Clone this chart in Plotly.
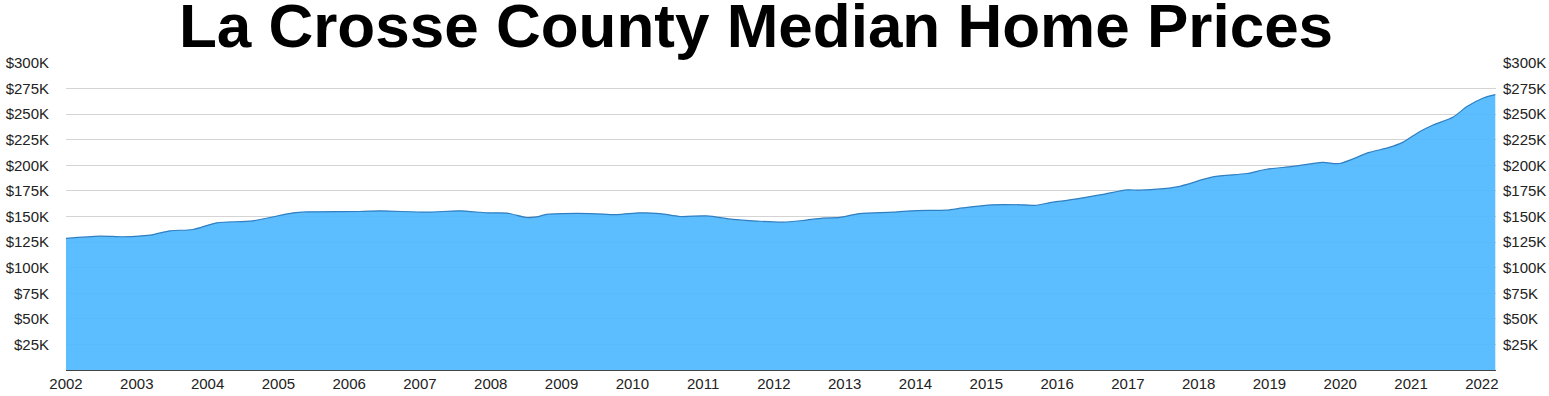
import plotly.graph_objects as go

years = [2002.00, 2002.48, 2002.81, 2003.19, 2003.47, 2003.79, 2004.13, 2004.64, 2005.21, 2005.40,
         2006.15, 2006.44, 2007.10, 2007.56, 2007.95, 2008.23, 2008.51, 2008.65, 2008.79, 2009.40,
         2009.78, 2010.11, 2010.39, 2010.68, 2011.05, 2011.42, 2011.76, 2012.13, 2012.41, 2012.69,
         2012.93, 2013.21, 2013.68, 2014.02, 2014.44, 2014.67, 2015.09, 2015.52, 2015.71, 2015.90,
         2016.14, 2016.65, 2016.99, 2017.17, 2017.69, 2018.20, 2018.68, 2018.96, 2019.33, 2019.75,
         2019.99, 2020.41, 2020.69, 2020.88, 2021.12, 2021.31, 2021.59, 2021.79, 2022.02, 2022.19]
prices_k = [128.6, 130.8, 130.2, 131.8, 136.0, 137.3, 143.8, 145.8, 153.6, 154.5,
            154.9, 155.5, 154.2, 155.5, 153.6, 153.3, 149.0, 149.7, 152.0, 152.9,
            151.9, 153.6, 152.9, 150.0, 150.6, 147.1, 145.5, 144.5, 146.1, 148.4,
            149.1, 152.9, 154.2, 155.8, 156.2, 158.4, 161.4, 161.4, 161.0, 163.6,
            165.8, 171.7, 176.0, 175.7, 178.9, 188.7, 192.0, 196.2, 198.9, 202.8,
            201.8, 212.6, 217.5, 222.4, 232.8, 239.4, 246.9, 257.4, 265.8, 269.1]
year_ticks = list(range(2002, 2023))
price_ticks = [25000 * i for i in range(1, 13)]
price_tick_labels = [f"${25 * i}K" for i in range(1, 13)]
title_text = "La Crosse County Median Home Prices"

prices = [p * 1000 for p in prices_k]

fig = go.Figure()
fig.add_trace(go.Scatter(
    x=years, y=prices, mode="lines", fill="tozeroy",
    line=dict(color="#2f7fc1", width=1.2, shape="spline", smoothing=0.8),
    fillcolor="rgba(80,184,255,0.93)", hoverinfo="skip", showlegend=False,
))
fig.add_trace(go.Scatter(
    x=years, y=prices, mode="lines", yaxis="y2",
    line=dict(color="rgba(0,0,0,0)", width=0), hoverinfo="skip", showlegend=False,
))

font_fam = "Liberation Sans, Arial, Helvetica, sans-serif"
fig.update_layout(
    width=1549, height=396,
    margin=dict(l=66, r=53, t=63, b=26),
    paper_bgcolor="white", plot_bgcolor="white",
    font=dict(family=font_fam, size=15, color="#222"),
    title=dict(text=f"<b>{title_text}</b>", x=756 / 1549, xanchor="center",
               y=1 - 25 / 396, yanchor="middle", yref="container",
               font=dict(family=font_fam, size=62, color="black")),
    xaxis=dict(range=[2002, 2022.2], tickvals=year_ticks, ticktext=[str(y) for y in year_ticks],
               showgrid=False, showline=True, linecolor="#444", linewidth=1, automargin=False,
               ticks="", zeroline=False, tickfont=dict(size=15, color="#222")),
    yaxis=dict(range=[0, 300000], tickvals=price_ticks, ticktext=price_tick_labels,
               showgrid=True, gridcolor="#d4d4d4", gridwidth=1, zeroline=False, automargin=False,
               ticks="", ticklabelstandoff=16, tickfont=dict(size=15, color="#222")),
    yaxis2=dict(range=[0, 300000], tickvals=price_ticks, ticktext=price_tick_labels,
                overlaying="y", side="right", showgrid=False, zeroline=False, automargin=False,
                ticks="", ticklabelstandoff=6, tickfont=dict(size=15, color="#222")),
)

fig.write_html(
    "out.html",
    config={"displayModeBar": False},
    post_script="document.body.style.margin='0';document.body.style.overflow='hidden';",
)
